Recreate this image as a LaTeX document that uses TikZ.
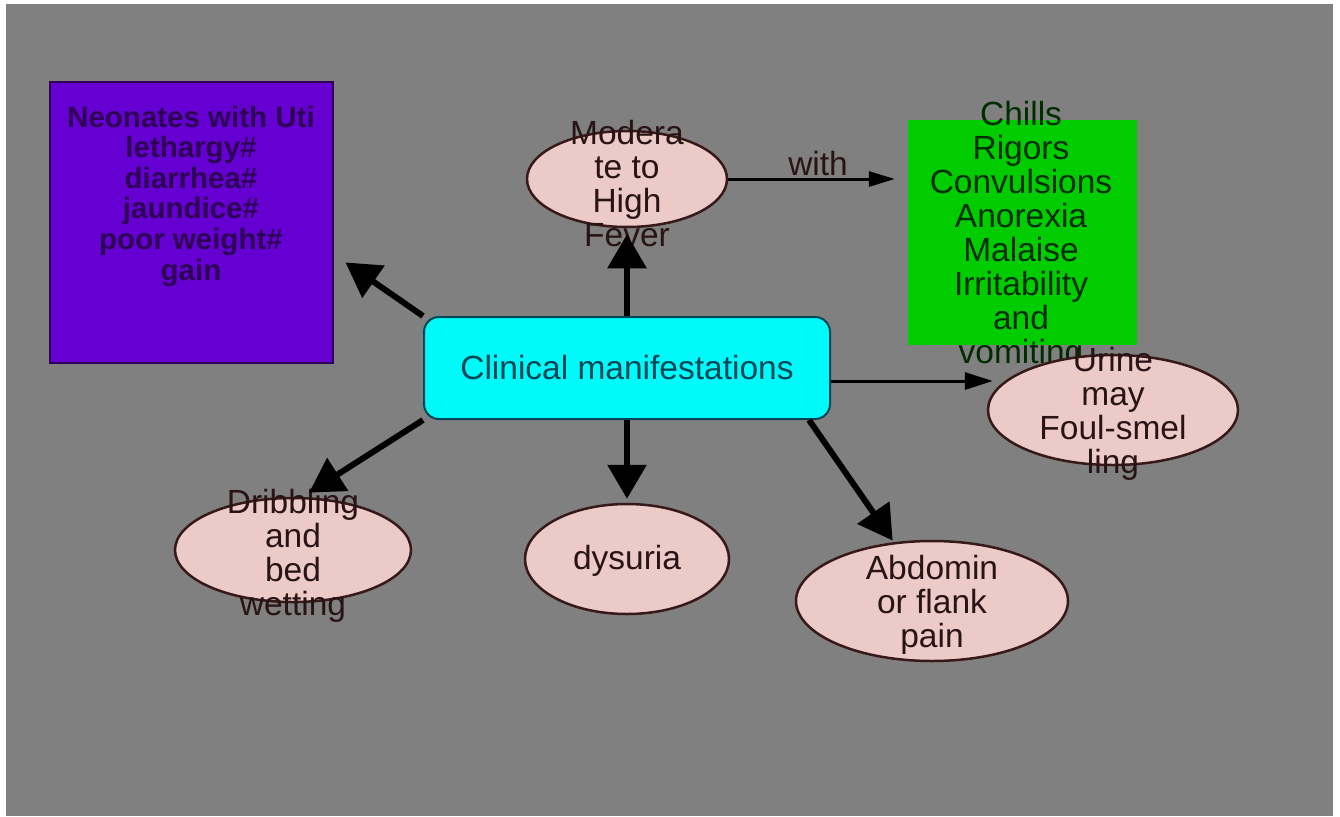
\documentclass[tikz,border=0pt]{standalone}
\usepackage{fontspec}
\setmainfont{Liberation Sans}
\usepackage{tikz}
\usetikzlibrary{
    arrows.meta,
    shapes.geometric,
    positioning
}
\definecolor{backdrop}{RGB}{128,128,128}
\definecolor{hubfill}{RGB}{0,250,250}
\definecolor{hubtext}{RGB}{0,70,85}
\definecolor{neofill}{RGB}{102,0,210}
\definecolor{neotext}{RGB}{45,0,85}
\definecolor{signfill}{RGB}{0,204,0}
\definecolor{signtext}{RGB}{0,45,0}
\definecolor{bubblefill}{RGB}{236,202,200}
\definecolor{bubbleline}{RGB}{55,25,25}
\definecolor{bubbletext}{RGB}{40,20,20}

\begin{document}
\begin{tikzpicture}[
    x=1pt, y=-1pt,
    bubble/.style={ellipse, draw=bubbleline, line width=2.5pt, fill=bubblefill, inner sep=0pt},
    words/.style={font=\fontsize{33.5}{34}\selectfont, align=center, text=bubbletext, inner sep=0pt},
    bigarrow/.style={-{Triangle[length=34pt,width=38pt]}, line width=6pt},
    thinarrow/.style={-{Triangle[length=28pt,width=17pt]}, line width=3pt}
]
    % Background
    \useasboundingbox (0,0) rectangle (1340,816);
    \fill[white] (0,0) rectangle (1340,816);
    \fill[backdrop] (6,4) rectangle (1333,816);

    % Central node
    \node[draw=hubtext, line width=2pt, fill=hubfill, rounded corners=15pt,
          minimum width=406pt, minimum height=102pt,
          font=\fontsize{33.5}{34}\selectfont, text=hubtext] (hub) at (627,368) {Clinical manifestations};

    % Neonates box
    \node[draw=neotext, line width=2pt, fill=neofill, minimum width=283pt, minimum height=281pt] (neo) at (191.5,222.5) {};
    \node[words, text=neotext, font=\fontsize{29.5}{30.6}\selectfont\bfseries] (neo text) at (191,196) {
        Neonates with Uti\\
        lethargy\#\\
        diarrhea\#\\
        jaundice\#\\
        poor weight\#\\
        gain
    };

    % Fever and its signs
    \node[bubble, minimum width=200pt, minimum height=96pt] (fever) at (627,179) {};
    \node[words] (fever text) at (627,184) {Modera\\te to\\High\\Fever};

    \node[fill=signfill, minimum width=229pt, minimum height=225pt] (signs) at (1022.5,232.5) {};
    \node[words, text=signtext] (signs text) at (1021,236) {
        Chills\\
        Rigors\\
        Convulsions\\
        Anorexia\\
        Malaise\\
        Irritability\\
        and\\
        vomiting
    };

    % Other manifestations
    \node[bubble, minimum width=250pt, minimum height=110pt] (urine) at (1113,410) {};
    \node[words] (urine text) at (1113,414) {Urine\\may\\Foul-smel\\ling};

    \node[bubble, minimum width=236pt, minimum height=104pt] (drib) at (293,550) {};
    \node[words] (drib text) at (293,556) {Dribbling\\and\\bed\\wetting};

    \node[bubble, minimum width=204pt, minimum height=110pt] (dys) at (627,559) {};
    \node[words] (dys text) at (627,561) {dysuria};

    \node[bubble, minimum width=272pt, minimum height=120pt] (abd) at (932,601) {};
    \node[words] (abd text) at (932,605) {Abdomin\\or flank\\pain};

    % Arrows
    \draw[bigarrow, shorten >=14pt] (hub.north west) -- ([yshift=-32pt]neo.east);
    \draw[bigarrow, shorten >=6pt] (hub.north) -- (fever.south);
    \draw[bigarrow, shorten >=4pt] (hub.south) -- (dys.north);
    \draw[bigarrow, shorten >=8pt] (hub.south west) -- (drib.80);
    \draw[bigarrow, shorten >=2pt] ([xshift=-22pt]hub.south east) -- (abd.123);
    \draw[thinarrow, shorten >=12pt] (hub.east |- urine.165) -- (urine.165);
    \draw[thinarrow, -{Triangle[length=26pt,width=15pt]}, shorten >=13pt] (fever.east) -- (fever.east -| signs.west)
        node[midway, above, inner sep=2pt, font=\fontsize{33.5}{34}\selectfont, text=bubbletext] (with) {with};
\end{tikzpicture}
\end{document}
